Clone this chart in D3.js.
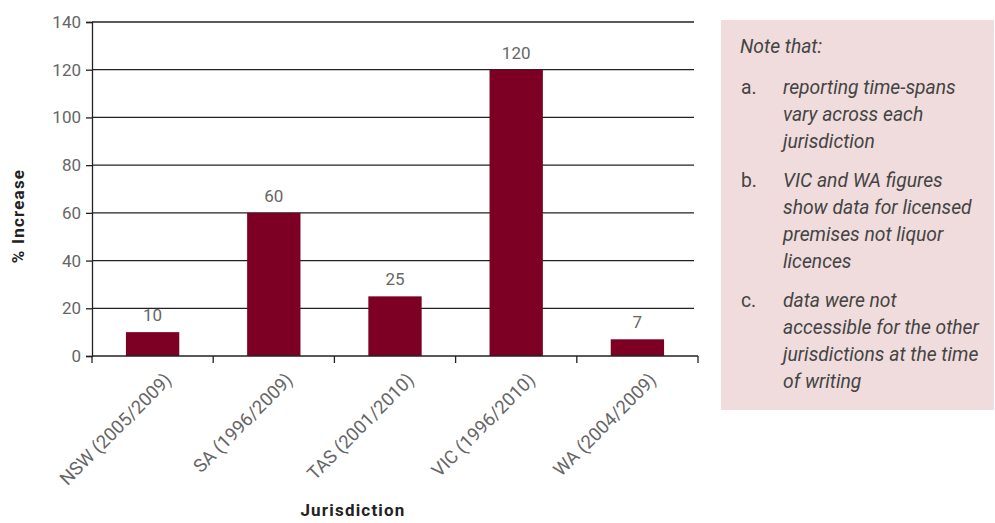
<!DOCTYPE html>
<html><head><meta charset="utf-8">
<script src="https://cdn.jsdelivr.net/npm/d3@7"></script>
<style>body{margin:0;background:#fff}svg{display:block}</style>
</head><body>
<script>
const categories = ["NSW (2005/2009)","SA (1996/2009)","TAS (2001/2010)","VIC (1996/2010)","WA (2004/2009)"];
const values = [10,60,25,120,7];
const yTicks = [0,20,40,60,80,100,120,140];
const noteTitle = "Note that:";
const noteItems = [
  {k:"a.", lines:["reporting time-spans","vary across each","jurisdiction"]},
  {k:"b.", lines:["VIC and WA figures","show data for licensed","premises not liquor","licences"]},
  {k:"c.", lines:["data were not","accessible for the other","jurisdictions at the time","of writing"]}
];

(function(){
const W=995,H=523;
const svg=d3.select("body").append("svg").attr("width",W).attr("height",H);
const pL=92,pR=698,pT=22,pB=356;
const x=d3.scaleBand().domain(categories).range([pL,pR]).paddingInner(0.56).paddingOuter(0.28);
const y=d3.scaleLinear().domain([0,140]).range([pB,pT]);
const font="Roboto, 'DejaVu Sans', sans-serif";
const tcol="#666";

const ya=svg.append("g").attr("transform",`translate(${pL},0)`)
  .call(d3.axisLeft(y).tickValues(yTicks).tickSize(6).tickPadding(5));
ya.select(".domain").attr("stroke","#222").attr("stroke-width",1.3);
ya.selectAll(".tick line").attr("stroke","#222").attr("stroke-width",1.3);
ya.selectAll(".tick text").attr("font-family",font).attr("font-size",17).attr("fill",tcol);
svg.append("g").selectAll("line").data(yTicks.filter(d=>d>0)).join("line")
  .attr("x1",pL).attr("x2",pR-4).attr("y1",d=>y(d)).attr("y2",d=>y(d))
  .attr("stroke","#222").attr("stroke-width",1.3);

svg.append("g").selectAll("rect").data(values).join("rect")
  .attr("x",(d,i)=>x(categories[i])).attr("width",x.bandwidth())
  .attr("y",d=>y(d)).attr("height",d=>pB-y(d)).attr("fill","#7d0024");
svg.append("g").selectAll("text").data(values).join("text")
  .attr("x",(d,i)=>x(categories[i])+x.bandwidth()/2).attr("y",d=>y(d)-11)
  .attr("text-anchor","middle").attr("font-family",font).attr("font-size",17).attr("fill",tcol)
  .text(d=>d);

const step=(pR-pL)/categories.length;
const xa=svg.append("g").attr("transform",`translate(0,${pB})`);
xa.append("line").attr("x1",pL).attr("x2",pR).attr("stroke","#222").attr("stroke-width",1.3);
xa.selectAll("line.t").data(d3.range(categories.length+1)).join("line").attr("class","t")
  .attr("x1",i=>pL+i*step).attr("x2",i=>pL+i*step).attr("y1",0).attr("y2",7)
  .attr("stroke","#222").attr("stroke-width",1.3);
xa.selectAll("text").data(categories).join("text")
  .attr("transform",d=>`translate(${x(d)+x.bandwidth()/2+20},${25}) rotate(-45)`)
  .attr("text-anchor","end").attr("font-family",font).attr("font-size",18.5).attr("fill",tcol)
  .text(d=>d);

svg.append("text").attr("transform",`translate(24,${(pT+pB)/2+27}) rotate(-90)`)
  .attr("text-anchor","middle").attr("font-family",font).attr("font-weight","bold").attr("font-size",17).attr("letter-spacing",1.2).attr("fill","#222")
  .text("% Increase");
svg.append("text").attr("x",353).attr("y",516).attr("text-anchor","middle")
  .attr("font-family",font).attr("font-weight","bold").attr("font-size",17).attr("letter-spacing",1.2).attr("fill","#222")
  .text("Jurisdiction");

const nb=svg.append("g");
nb.append("rect").attr("x",721).attr("y",20).attr("width",273).attr("height",390).attr("fill","#f0dcdc");
const nf=font, ns=19.3, ncol="#444";
nb.append("text").attr("x",740).attr("y",53).attr("font-family",nf).attr("font-style","italic").attr("font-size",ns).attr("fill",ncol).text(noteTitle);
let ly=94;
noteItems.forEach(it=>{
  nb.append("text").attr("x",741).attr("y",ly).attr("font-family",nf).attr("font-size",ns).attr("fill",ncol).text(it.k);
  it.lines.forEach(l=>{
    nb.append("text").attr("x",783).attr("y",ly).attr("font-family",nf).attr("font-style","italic").attr("font-size",ns).attr("fill",ncol).text(l);
    ly+=27;
  });
  ly+=12;
});
})();
</script>
</body></html>
